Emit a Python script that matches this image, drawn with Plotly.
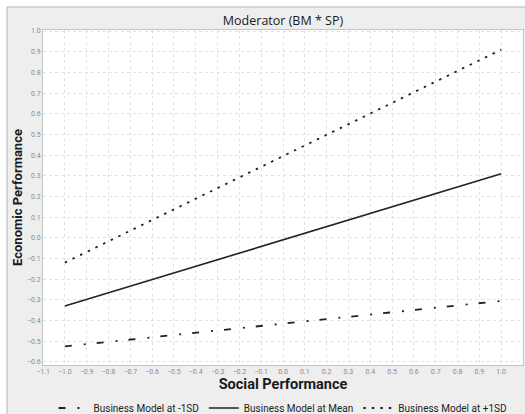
import plotly.graph_objects as go

x_vals = [-1.0, 1.0]
low_sd = [-0.525, -0.305]
mean_vals = [-0.33, 0.31]
high_sd = [-0.12, 0.91]

series_names = ["Business Model at -1SD", "Business Model at Mean", "Business Model at +1SD"]

x_ticks = [round(-1.1 + 0.1 * i, 1) for i in range(23)]
y_ticks = [round(-0.6 + 0.1 * i, 1) for i in range(17)]

W, H = 525, 414
ML, MR, MT, MB = 43, 2, 30, 49
PW, PH = W - ML - MR, H - MT - MB

fig = go.Figure()
fig.add_trace(go.Scatter(x=x_vals, y=low_sd, mode="lines", name=series_names[0],
                         line=dict(color="#222222", width=1.8, dash="7px,12px,2px,11px")))
fig.add_trace(go.Scatter(x=x_vals, y=mean_vals, mode="lines", name=series_names[1],
                         line=dict(color="#222222", width=1.6)))
fig.add_trace(go.Scatter(x=x_vals, y=high_sd, mode="lines", name=series_names[2],
                         line=dict(color="#222222", width=1.8, dash="2.5px,6px")))

# white outer strip (left and top) with grey frame border
fig.add_shape(type="rect", xref="paper", yref="paper",
              x0=-ML / PW, x1=(7 - ML) / PW, y0=-MB / PH, y1=1 + MT / PH,
              line=dict(width=0), fillcolor="white", layer="above")
fig.add_shape(type="rect", xref="paper", yref="paper",
              x0=-ML / PW, x1=1 + MR / PW, y0=1 + (MT - 7) / PH, y1=1 + MT / PH,
              line=dict(width=0), fillcolor="white", layer="above")
fig.add_shape(type="line", xref="paper", yref="paper",
              x0=(7 - ML) / PW, x1=(7 - ML) / PW, y0=-MB / PH, y1=1 + (MT - 7) / PH,
              line=dict(color="#b4b4b4", width=1), layer="above")
fig.add_shape(type="line", xref="paper", yref="paper",
              x0=(7 - ML) / PW, x1=1 + MR / PW, y0=1 + (MT - 7) / PH, y1=1 + (MT - 7) / PH,
              line=dict(color="#b4b4b4", width=1), layer="above")

fig.update_layout(
    width=W, height=H,
    margin=dict(l=ML, r=MR, t=MT, b=MB),
    paper_bgcolor="#eeeeee", plot_bgcolor="white",
    font=dict(family="Roboto, Liberation Sans, sans-serif", color="#333333"),
    title=dict(text="Moderator (BM * SP)", x=0.5, xref="paper", y=1 - 21 / H, yref="container",
               yanchor="middle", font=dict(family="Open Sans, sans-serif", size=12.5, color="#1a1a1a")),
    showlegend=True,
    legend=dict(orientation="h", x=0.5, xanchor="center", xref="paper",
                y=6 / H, yref="container", yanchor="middle",
                font=dict(size=10, color="#222222"), bgcolor="rgba(0,0,0,0)"),
    xaxis=dict(range=[-1.1, 1.1], tickvals=x_ticks, tickformat=".1f",
               tickfont=dict(size=7, color="#8a8a8a"), showgrid=True,
               gridcolor="#e2e2e2", griddash="dot", zeroline=False,
               showline=True, mirror=True, linecolor="#c4c4c4", ticks="",
               title=dict(text="<b>Social Performance</b>", font=dict(size=14.5, color="#1a1a1a"), standoff=2)),
    yaxis=dict(range=[-0.615, 1.005], tickvals=y_ticks, tickformat=".1f",
               tickfont=dict(size=7, color="#8a8a8a"), showgrid=True,
               gridcolor="#e2e2e2", griddash="dot", zeroline=False,
               showline=True, mirror=True, linecolor="#c4c4c4", ticks="",
               title=dict(text="<b>Economic Performance</b>", font=dict(size=13, color="#1a1a1a"), standoff=1)),
)

css_js = (
    "var s=document.createElement('style');"
    "s.textContent='html,body{margin:0;padding:0;overflow:hidden;width:525px;height:414px;}"
    "::-webkit-scrollbar{display:none;width:0;height:0;}';"
    "document.head.appendChild(s);"
)
fig.write_html("out.html", config={"displayModeBar": False}, post_script=css_js)
